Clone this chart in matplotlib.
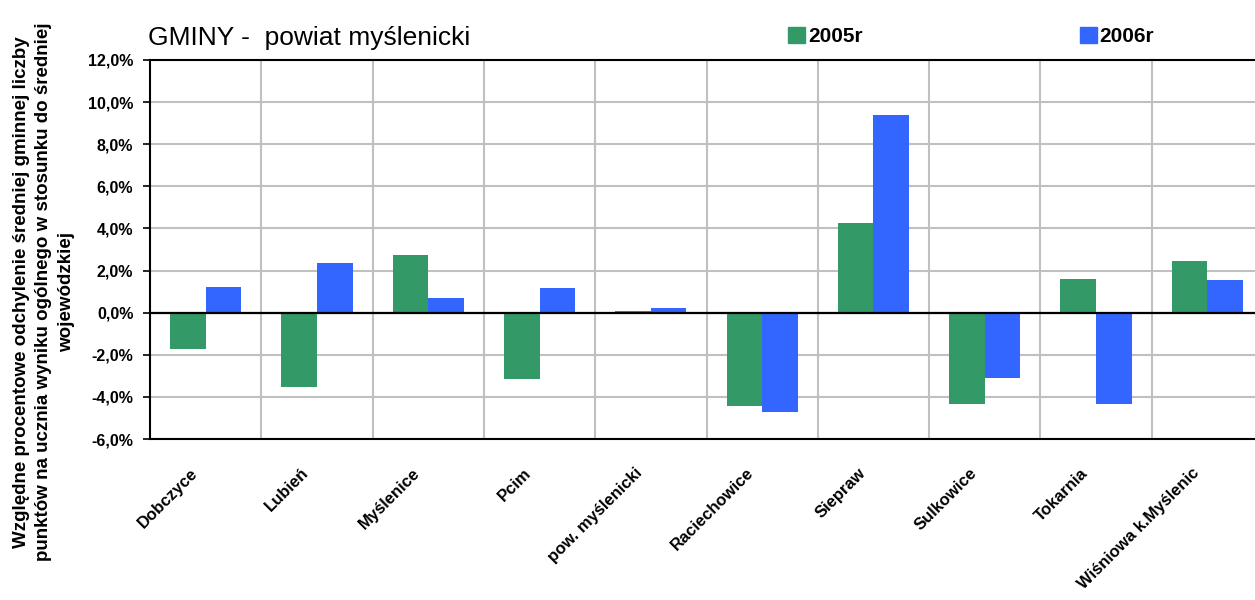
"""Gminy powiatu myślenickiego - odchylenie od średniej wojewódzkiej"""
import numpy as np
import matplotlib
matplotlib.use('Agg')
import matplotlib.pyplot as plt
import matplotlib.transforms as mtransforms
from matplotlib.patches import Patch
from matplotlib.ticker import FuncFormatter, MultipleLocator

plt.rcParams['font.family'] = ['Liberation Sans', 'DejaVu Sans']

gminy = ['Dobczyce', 'Lubień', 'Myślenice', 'Pcim', 'pow. myślenicki',
         'Raciechowice', 'Siepraw', 'Sulkowice', 'Tokarnia', 'Wiśniowa k.Myślenic']
# values in percent
rok_2005 = [-1.74, -3.55, 2.72, -3.17, 0.08, -4.41, 4.25, -4.32, 1.59, 2.44]
rok_2006 = [1.20, 2.34, 0.68, 1.15, 0.21, -4.70, 9.40, -3.08, -4.32, 1.54]
serie = ['2005r', '2006r']
kolory = ['#339966', '#3366FF']

fig = plt.figure(figsize=(12.55, 6), dpi=100)
# plot area runs a bit past the right edge, like the original
ax = fig.add_axes([150 / 1255, 1 - 439 / 600, 1113 / 1255, 379 / 600])

x = np.arange(len(gminy))
w = 0.32
ax.bar(x - w / 2, rok_2005, w, color=kolory[0], zorder=2)
ax.bar(x + w / 2, rok_2006, w, color=kolory[1], zorder=2)
ax.axhline(0, color='black', lw=1.6, zorder=3)

ax.set_xlim(-0.5, len(gminy) - 0.5)
ax.set_ylim(-6, 12)
ax.yaxis.set_major_locator(MultipleLocator(2))
ax.yaxis.set_major_formatter(FuncFormatter(lambda v, p: f'{v:.1f}%'.replace('.', ',')))
ax.set_xticks(x)
ax.set_xticks(x[:-1] + 0.5, minor=True)
ax.set_xticklabels(gminy, rotation=45, ha='right', va='top',
                   rotation_mode='anchor', fontsize=12, fontweight='bold')
for lab in ax.get_yticklabels():
    lab.set_fontweight('bold')
ax.tick_params(axis='y', labelsize=11.5, length=5, width=1.2, pad=7, color='black')
ax.tick_params(axis='x', which='both', length=0, pad=19)

# shift the rotated labels a little left of the category centre
shift = mtransforms.ScaledTranslation(-16 / 100, 0, fig.dpi_scale_trans)
for lab in ax.get_xticklabels():
    lab.set_transform(lab.get_transform() + shift)

ax.grid(True, axis='y', which='major', color='#c0c0c0', lw=1.5, zorder=0)
ax.grid(True, axis='x', which='minor', color='#c0c0c0', lw=1.5, zorder=0)
ax.set_axisbelow(True)
for s in ['left', 'bottom', 'top']:
    ax.spines[s].set_linewidth(1.5)
    ax.spines[s].set_color('black')
ax.spines['right'].set_visible(False)

fig.text(148 / 1255, 1 - 45 / 600, 'GMINY -  powiat myślenicki', fontsize=19,
         va='baseline', ha='left')

fig.text(44 / 1255, 1 - 292 / 600,
         'Względne procentowe odchylenie średniej gminnej liczby\n'
         'punktów na ucznia wyniku ogólnego w stosunku do średniej\n'
         'wojewódzkiej',
         rotation=90, ha='center', va='center', multialignment='center',
         fontsize=13.5, fontweight='bold', linespacing=1.45)

uchwyty = [Patch(color=c, label=s) for c, s in zip(kolory, serie)]
fig.legend(handles=uchwyty, loc='center left', bbox_to_anchor=(788 / 1255, 1 - 36.5 / 600),
           ncol=2, frameon=False, borderpad=0, borderaxespad=0,
           handlelength=0.82, handleheight=0.82, handletextpad=0.15,
           columnspacing=10.4, prop={'weight': 'bold', 'size': 15})

fig.savefig('out.png', dpi=100)
